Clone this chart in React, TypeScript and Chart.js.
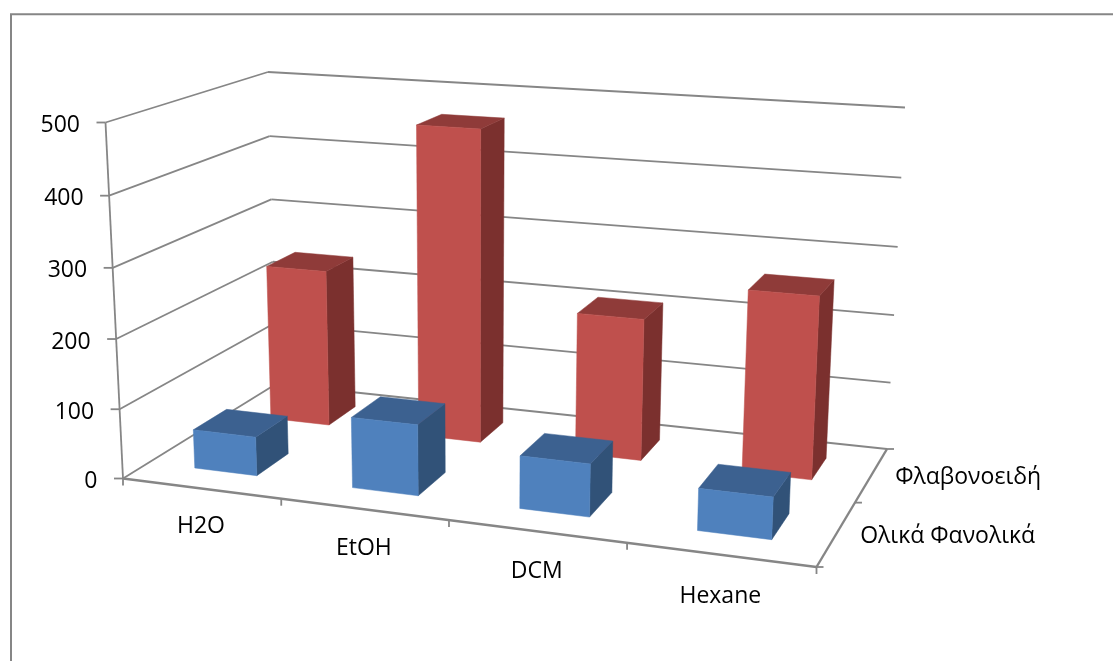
import React, { useEffect, useRef } from "react";
import { Chart, registerables } from "chart.js";

Chart.register(...registerables);

// Chart data
const solvents = ["H2O", "EtOH", "DCM", "Hexane"];
const seriesNames = ["Ολικά Φανολικά", "Φλαβονοειδή"];
const totalPhenolics = [56, 100, 73, 57];
const flavonoids = [236, 463, 207, 262];

const WIDTH = 1113;
const HEIGHT = 661;
const FONT = '23px "Open Sans"';
const LINE = "#868686";
const INK = "#000000";

// Corners of the 3D box on the canvas: floor and ceiling, front and back.
type P = [number, number];
const FLOOR = { fl: [123, 478.5] as P, fr: [816.5, 567] as P, bl: [276, 384] as P, br: [887, 449] as P };
const CEIL = { fl: [105.5, 122.5] as P, fr: [833, 168] as P, bl: [268, 72] as P, br: [905, 107.5] as P };

// Foreshortening along each box axis
const WIDTH_SKEW = 0.113;
const DEPTH_SKEW = 1.2;
const HEIGHT_SKEW = 0.035;

const BAR_HALF_WIDTH = 0.05;
const BAR_HALF_DEPTH = 0.103;

const GRID_W = 1.8;
const AXIS_W = 2.4;

const FACES = [
  { front: "#4F81BD", top: "#3C6190", side: "#315278" },
  { front: "#BF504D", top: "#8F3B39", side: "#7B302E" },
];

const lerp = (a: P, b: P, t: number): P => [a[0] + (b[0] - a[0]) * t, a[1] + (b[1] - a[1]) * t];
const warpU = (u: number) => (u * (1 - WIDTH_SKEW)) / (1 - WIDTH_SKEW * u);
const warpD = (d: number) => (DEPTH_SKEW * d) / (1 + (DEPTH_SKEW - 1) * d);
const warpH = (f: number) => f / (1 + HEIGHT_SKEW * (1 - f));

// u: across the categories, d: front to back, f: share of the value axis; each 0..1
function project(u: number, d: number, f: number): P {
  const uu = warpU(u);
  const dd = warpD(d);
  const quad = (q: typeof FLOOR) => lerp(lerp(q.fl, q.fr, uu), lerp(q.bl, q.br, uu), dd);
  return lerp(quad(FLOOR), quad(CEIL), warpH(f));
}

function segment(ctx: CanvasRenderingContext2D, a: P, b: P, width: number) {
  ctx.beginPath();
  ctx.moveTo(a[0], a[1]);
  ctx.lineTo(b[0], b[1]);
  ctx.lineWidth = width;
  ctx.strokeStyle = LINE;
  ctx.stroke();
}

function face(ctx: CanvasRenderingContext2D, pts: P[], color: string) {
  ctx.beginPath();
  pts.forEach((p, i) => (i ? ctx.lineTo(p[0], p[1]) : ctx.moveTo(p[0], p[1])));
  ctx.closePath();
  ctx.fillStyle = color;
  ctx.fill();
  ctx.strokeStyle = color;
  ctx.lineWidth = 0.5;
  ctx.stroke();
}

const box3d = {
  id: "box3d",
  // The bars are painted in afterDatasetsDraw as solids, back row first.
  beforeDatasetDraw: () => false,
  beforeDatasetsDraw(chart: any) {
    const { ctx, scales } = chart;
    const { x, y, z } = scales;
    const fracU = (v: number) => x.getDecimalForPixel(x.getPixelForValue(v));
    const fracF = (v: number) => y.getDecimalForPixel(y.getPixelForValue(v));

    ctx.save();
    ctx.lineCap = "butt";

    // Outer frame: top and left edges
    segment(ctx, [11, HEIGHT], [11, 14], 2);
    segment(ctx, [10, 14.3], [WIDTH, 14.3], 2);

    // Value axis, wall grid lines and tick labels
    ctx.font = FONT;
    ctx.fillStyle = INK;
    ctx.textAlign = "right";
    ctx.textBaseline = "middle";
    for (const tick of y.ticks) {
      const f = fracF(tick.value);
      const front = project(0, 0, f);
      const backLeft = project(0, 1, f);
      const backRight = project(1, 1, f);
      segment(ctx, front, backLeft, GRID_W);
      segment(ctx, backLeft, backRight, GRID_W);
      segment(ctx, [front[0] - 9, front[1]], front, GRID_W);
      ctx.fillStyle = INK;
      ctx.fillText(String(tick.value), front[0] - 25.5, front[1] + 3);
    }
    segment(ctx, project(0, 0, 1), project(0, 0, 0), GRID_W);

    // Category axis along the front of the floor
    segment(ctx, project(0, 0, 0), project(1, 0, 0), AXIS_W);
    ctx.textAlign = "center";
    solvents.forEach((label, i) => {
      const left = project(fracU(i - 0.5), 0, 0);
      segment(ctx, left, [left[0], left[1] + 7], GRID_W);
      const u = fracU(i);
      const mid = project(u, 0, 0);
      ctx.fillStyle = INK;
      ctx.fillText(label, mid[0], mid[1] + 38 + 4 * u);
    });
    const end = project(1, 0, 0);
    segment(ctx, end, [end[0], end[1] + 7], GRID_W);

    // Series axis along the right of the floor
    segment(ctx, project(1, 0, 0), project(1, 1, 0), AXIS_W);
    ctx.textAlign = "left";
    seriesNames.forEach((label, j) => {
      const start = project(1, j / seriesNames.length, 0);
      segment(ctx, start, [start[0] + 7, start[1]], GRID_W);
      const mid = project(1, z.getDecimalForPixel(z.getPixelForValue(j)), 0);
      ctx.fillStyle = INK;
      ctx.fillText(label, mid[0] + 23.5, mid[1] + 3);
    });
    const last = project(1, 1, 0);
    segment(ctx, last, [last[0] + 7, last[1]], GRID_W);
    ctx.restore();
  },
  afterDatasetsDraw(chart: any) {
    const { ctx, scales, data } = chart;
    const { x, y, z } = scales;
    ctx.save();
    for (let j = data.datasets.length - 1; j >= 0; j--) {
      const dc = z.getDecimalForPixel(z.getPixelForValue(j));
      const colors = FACES[j];
      (data.datasets[j].data as number[]).forEach((value, i) => {
        const uc = x.getDecimalForPixel(x.getPixelForValue(i));
        const f = y.getDecimalForPixel(y.getPixelForValue(value));
        const u0 = uc - BAR_HALF_WIDTH;
        const u1 = uc + BAR_HALF_WIDTH;
        const d0 = dc - BAR_HALF_DEPTH;
        const d1 = dc + BAR_HALF_DEPTH;
        face(ctx, [project(u1, d0, 0), project(u1, d1, 0), project(u1, d1, f), project(u1, d0, f)], colors.side);
        face(ctx, [project(u0, d0, f), project(u1, d0, f), project(u1, d1, f), project(u0, d1, f)], colors.top);
        face(ctx, [project(u0, d0, 0), project(u1, d0, 0), project(u1, d0, f), project(u0, d0, f)], colors.front);
      });
    }
    ctx.restore();
  },
};

export default function App() {
  const canvasRef = useRef<HTMLCanvasElement>(null);

  useEffect(() => {
    const chart = new Chart(canvasRef.current!, {
      type: "bar",
      data: {
        labels: solvents,
        datasets: [
          { label: seriesNames[0], data: totalPhenolics, backgroundColor: FACES[0].front },
          { label: seriesNames[1], data: flavonoids, backgroundColor: FACES[1].front },
        ],
      },
      options: {
        responsive: false,
        animation: false,
        layout: { padding: { left: 123, right: WIDTH - 816, top: 122, bottom: HEIGHT - 478 } },
        plugins: { legend: { display: false }, tooltip: { enabled: false } },
        scales: {
          x: { type: "category", offset: true, display: false },
          y: { type: "linear", min: 0, max: 500, display: false, ticks: { stepSize: 100 } },
          z: { type: "category", axis: "x", labels: seriesNames, offset: true, display: false },
        },
      },
      plugins: [box3d],
    } as any);
    return () => chart.destroy();
  }, []);

  return (
    <canvas
      ref={canvasRef}
      width={WIDTH}
      height={HEIGHT}
      style={{ position: "fixed", left: 0, top: 0, display: "block", background: "#ffffff" }}
    />
  );
}
